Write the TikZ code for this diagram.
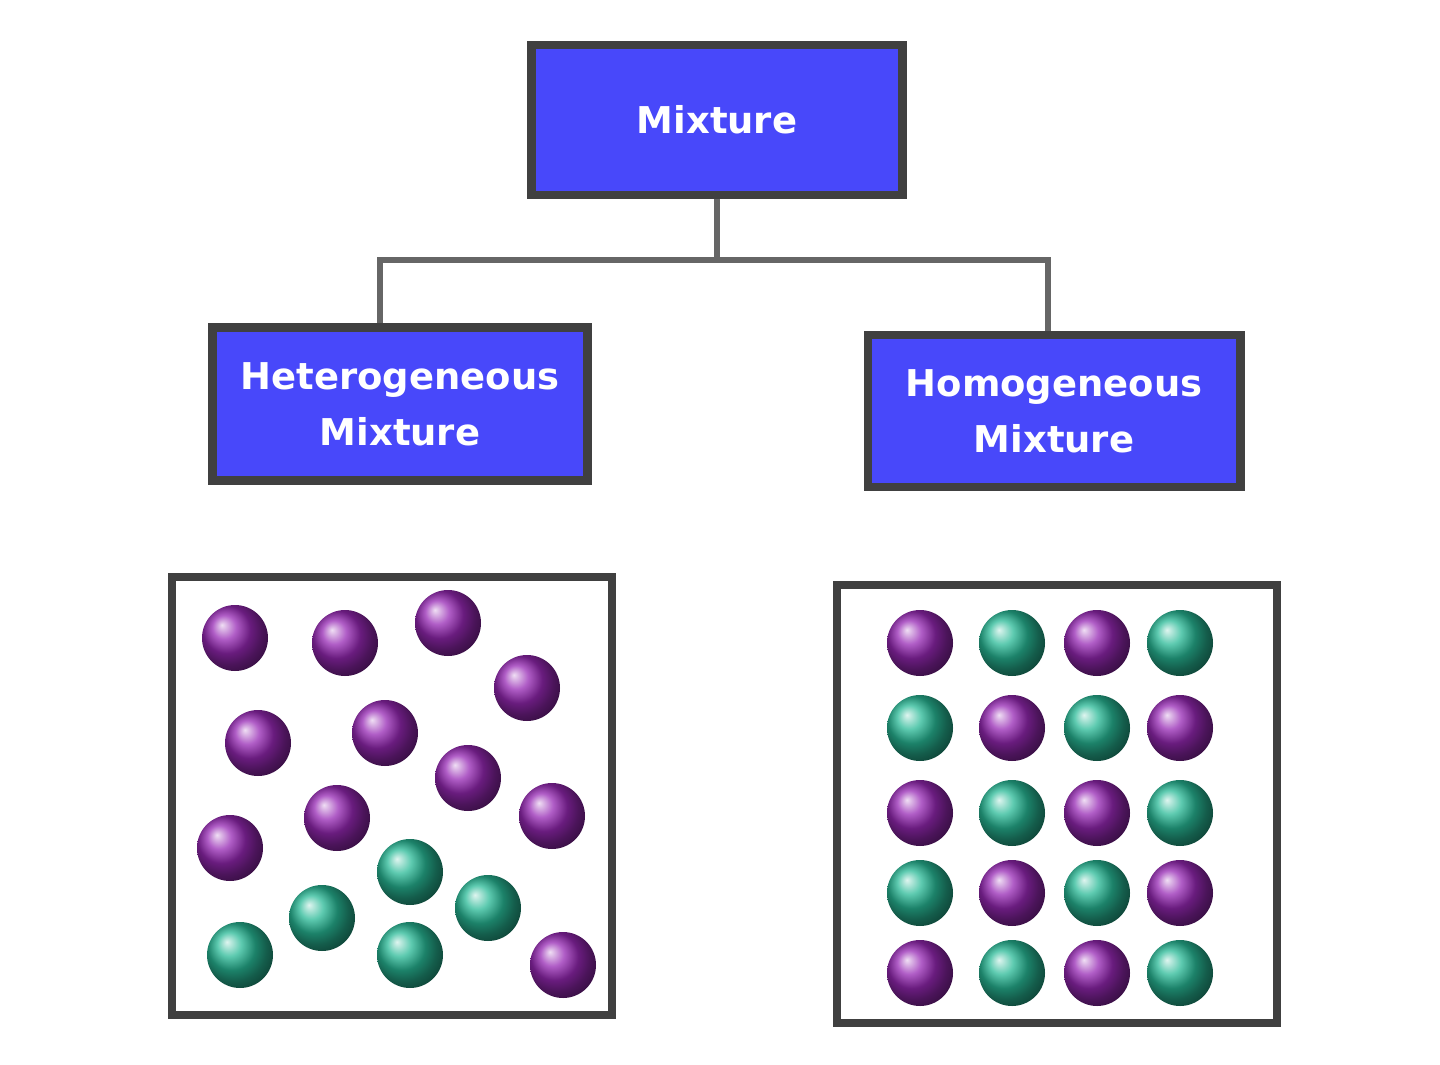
\documentclass[tikz,border=0pt]{standalone}
\usepackage{fontspec}
\setmainfont{DejaVu Sans}
\usepackage{xcolor}
\definecolor{boxblue}{RGB}{72,72,250}
\definecolor{ballpurple}{RGB}{150,40,180}
\definecolor{ballgreen}{RGB}{40,185,150}
\tikzset{
  labelbox/.style={draw=black!75,line width=2.5pt,fill=boxblue,text=white,
    font=\fontsize{10.5}{16}\selectfont\bfseries,align=center,inner sep=0pt},
  frame/.style={draw=black!75,line width=2.5pt},
  link/.style={draw=black!60,line width=1.5pt},
  pball/.style={ball color=ballpurple},
  gball/.style={ball color=ballgreen}
}
\begin{document}
\begin{tikzpicture}[x=0.01cm,y=-0.01cm]
\useasboundingbox (0,0) rectangle (1440,1064);
% Draw the boxes
\node[labelbox,minimum width=3.71cm,minimum height=1.5cm] (mix) at (717,120) {Mixture};
\node[labelbox,minimum width=3.74cm,minimum height=1.53cm] (het) at (400,404) {Heterogeneous\\Mixture};
\node[labelbox,minimum width=3.72cm,minimum height=1.52cm] (hom) at (1054,411) {Homogeneous\\Mixture};

% Draw the connectors
\coordinate (joint) at (717,260);
\draw[link] (mix.south) -- (joint) -| ([xshift=-0.2cm]het.north);
\draw[link] (joint) -| ([xshift=-0.06cm]hom.north);

% Draw the frames
\draw[frame] (172,577) rectangle (612,1015);
\draw[frame] (837,585) rectangle (1277,1023);

% Draw the balls
\foreach \x/\y in {235/638,345/643,448/623,527/688,258/743,385/733,468/778,337/818,552/816,230/848,563/965}
  \shade[pball] (\x,\y) circle (33);
\foreach \x/\y in {410/872,322/918,488/908,240/955,410/955}
  \shade[gball] (\x,\y) circle (33);
\foreach \y [count=\r] in {643,728,813,893,973}
  \foreach \x [count=\c] in {920,1012,1097,1180} {
    \pgfmathparse{int(mod(\r+\c,2))}
    \ifnum\pgfmathresult=0 \shade[pball] (\x,\y) circle (33);
    \else \shade[gball] (\x,\y) circle (33); \fi
  }
\end{tikzpicture}
\end{document}
